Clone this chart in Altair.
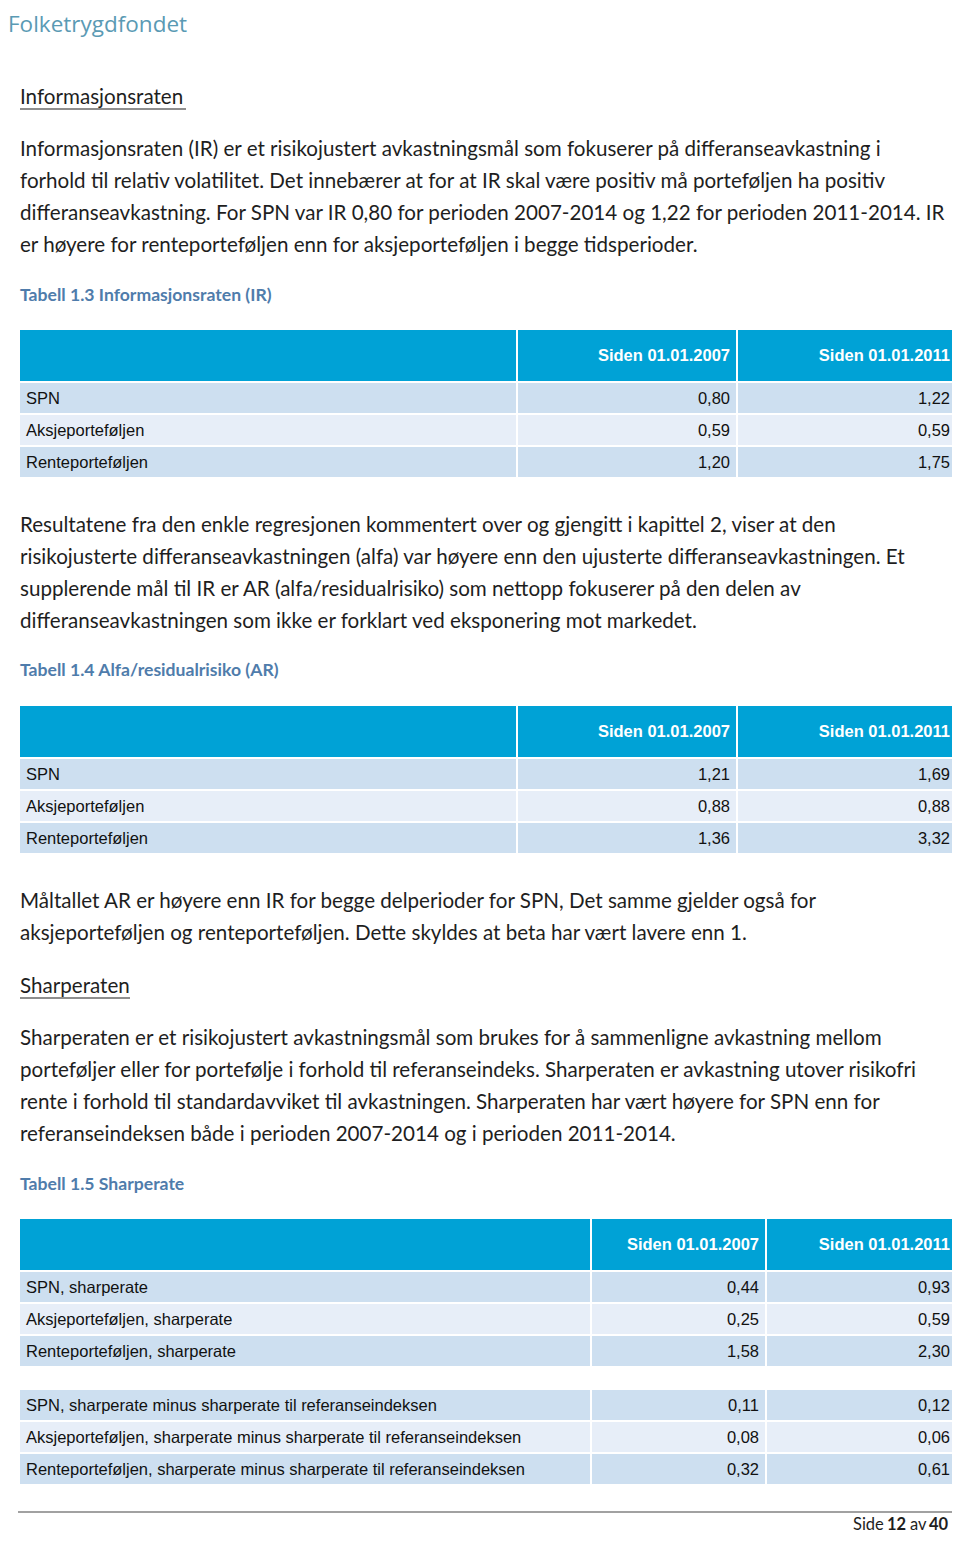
import altair as alt
import pandas as pd

# ---------------- data ----------------
logo_text = "Folketrygdfondet"

heading_ir = "Informasjonsraten"
para_ir = [
    "Informasjonsraten (IR) er et risikojustert avkastningsmål som fokuserer på differanseavkastning i",
    "forhold til relativ volatilitet. Det innebærer at for at IR skal være positiv må porteføljen ha positiv",
    "differanseavkastning. For SPN var IR 0,80 for perioden 2007-2014 og 1,22 for perioden 2011-2014. IR",
    "er høyere for renteporteføljen enn for aksjeporteføljen i begge tidsperioder.",
]
caption_13 = "Tabell 1.3 Informasjonsraten (IR)"
columns = ["Siden 01.01.2007", "Siden 01.01.2011"]
rows_13 = ["SPN", "Aksjeporteføljen", "Renteporteføljen"]
ir_2007 = [0.80, 0.59, 1.20]
ir_2011 = [1.22, 0.59, 1.75]

para_ar = [
    "Resultatene fra den enkle regresjonen kommentert over og gjengitt i kapittel 2, viser at den",
    "risikojusterte differanseavkastningen (alfa) var høyere enn den ujusterte differanseavkastningen. Et",
    "supplerende mål til IR er AR (alfa/residualrisiko) som nettopp fokuserer på den delen av",
    "differanseavkastningen som ikke er forklart ved eksponering mot markedet.",
]
caption_14 = "Tabell 1.4 Alfa/residualrisiko (AR)"
rows_14 = ["SPN", "Aksjeporteføljen", "Renteporteføljen"]
ar_2007 = [1.21, 0.88, 1.36]
ar_2011 = [1.69, 0.88, 3.32]

para_ar2 = [
    "Måltallet AR er høyere enn IR for begge delperioder for SPN, Det samme gjelder også for",
    "aksjeporteføljen og renteporteføljen. Dette skyldes at beta har vært lavere enn 1.",
]

heading_sr = "Sharperaten"
para_sr = [
    "Sharperaten er et risikojustert avkastningsmål som brukes for å sammenligne avkastning mellom",
    "porteføljer eller for portefølje i forhold til referanseindeks. Sharperaten er avkastning utover risikofri",
    "rente i forhold til standardavviket til avkastningen. Sharperaten har vært høyere for SPN enn for",
    "referanseindeksen både i perioden 2007-2014 og i perioden 2011-2014.",
]
caption_15 = "Tabell 1.5 Sharperate"
rows_15 = [
    "SPN, sharperate",
    "Aksjeporteføljen, sharperate",
    "Renteporteføljen, sharperate",
    "SPN, sharperate minus sharperate til referanseindeksen",
    "Aksjeporteføljen, sharperate minus sharperate til referanseindeksen",
    "Renteporteføljen, sharperate minus sharperate til referanseindeksen",
]
sr_2007 = [0.44, 0.25, 1.58, 0.11, 0.08, 0.32]
sr_2011 = [0.93, 0.59, 2.30, 0.12, 0.06, 0.61]

footer_parts = ["Side", "12", "av", "40"]

# ---------------- layout ----------------
BLUE = "#00a2d6"
DARK = "#cddff0"
LIGHT = "#e7eef8"
CAPTION = "#4f7cab"
TEXT = "#1e1e1e"
LEFT = 20
RIGHT = 955
LINE = 32


def fmt(v):
    return f"{v:.2f}".replace(".", ",")


rects, labels, values, headers = [], [], [], []


def add_table(top, c1, c2, row_names, v1, v2, gap_after=None):
    hb = top + 51
    for xa, xb in [(LEFT, c1), (c1 + 2, c2), (c2 + 2, RIGHT)]:
        rects.append(dict(x=xa, x2=xb, y=top, y2=hb, c=BLUE))
    headers.append(dict(x=c2 - 6, y=top + 26, t=columns[0]))
    headers.append(dict(x=RIGHT - 5, y=top + 26, t=columns[1]))
    y = hb + 2
    for i, (name, a, b) in enumerate(zip(row_names, v1, v2)):
        if gap_after is not None and i == gap_after:
            y += 22
        k = i if gap_after is None or i < gap_after else i - gap_after
        col = DARK if k % 2 == 0 else LIGHT
        for xa, xb in [(LEFT, c1), (c1 + 2, c2), (c2 + 2, RIGHT)]:
            rects.append(dict(x=xa, x2=xb, y=y, y2=y + 30, c=col))
        labels.append(dict(x=LEFT + 6, y=y + 16, t=name))
        values.append(dict(x=c2 - 6, y=y + 16, t=fmt(a)))
        values.append(dict(x=RIGHT - 5, y=y + 16, t=fmt(b)))
        y += 32


add_table(330, 516, 736, rows_13, ir_2007, ir_2011)
add_table(706, 516, 736, rows_14, ar_2007, ar_2011)
add_table(1219, 590, 765, rows_15, sr_2007, sr_2011, gap_after=3)

body = []
for start, lines in [(150, para_ir), (526, para_ar), (902, para_ar2), (1039, para_sr)]:
    for i, ln in enumerate(lines):
        body.append(dict(x=LEFT, y=start + i * LINE, t=ln))
body.append(dict(x=LEFT, y=98, t=heading_ir))
body.append(dict(x=LEFT, y=987, t=heading_sr))

underlines = pd.DataFrame([
    dict(x=LEFT, x2=186, y=109),
    dict(x=LEFT, x2=130, y=998),
])

captions = pd.DataFrame([
    dict(x=LEFT, y=296, t=caption_13),
    dict(x=LEFT, y=671, t=caption_14),
    dict(x=LEFT, y=1185, t=caption_15),
])

footer = pd.DataFrame([
    dict(x=853, y=1525, t=footer_parts[0], w="normal"),
    dict(x=887, y=1525, t=footer_parts[1], w="bold"),
    dict(x=910, y=1525, t=footer_parts[2], w="normal"),
    dict(x=929, y=1525, t=footer_parts[3], w="bold"),
])

# page coordinates: the chart starts at the 8px body margin
xs = alt.Scale(domain=[8, 952], nice=False, zero=False)
ys = alt.Scale(domain=[8, 1534], nice=False, zero=False, reverse=True)
X = alt.X("x:Q", scale=xs, axis=None)
Y = alt.Y("y:Q", scale=ys, axis=None)

rect_layer = alt.Chart(pd.DataFrame(rects)).mark_rect().encode(
    x=X, x2="x2:Q", y=Y, y2="y2:Q", color=alt.Color("c:N", scale=None)
)

logo = alt.Chart(pd.DataFrame([dict(x=8, y=25, t=logo_text)])).mark_text(
    align="left", baseline="middle", font="Open Sans", fontSize=22.5, color="#5a9ab4"
).encode(x=X, y=Y, text="t:N")

body_layer = alt.Chart(pd.DataFrame(body)).mark_text(
    align="left", baseline="middle", font="Lato", fontSize=20.6, color=TEXT
).encode(x=X, y=Y, text="t:N")

ul_layer = alt.Chart(underlines).mark_rule(color=TEXT, strokeWidth=1.2).encode(
    x=X, x2="x2:Q", y=Y
)

cap_layer = alt.Chart(captions).mark_text(
    align="left", baseline="middle", font="Lato", fontSize=17.6, fontWeight="bold", color=CAPTION
).encode(x=X, y=Y, text="t:N")

head_layer = alt.Chart(pd.DataFrame(headers)).mark_text(
    align="right", baseline="middle", font="Liberation Sans", fontSize=16.5, fontWeight="bold", color="white"
).encode(x=X, y=Y, text="t:N")

lab_layer = alt.Chart(pd.DataFrame(labels)).mark_text(
    align="left", baseline="middle", font="Liberation Sans", fontSize=16.5, color="#111111"
).encode(x=X, y=Y, text="t:N")

val_layer = alt.Chart(pd.DataFrame(values)).mark_text(
    align="right", baseline="middle", font="Liberation Sans", fontSize=16.5, color="#111111"
).encode(x=X, y=Y, text="t:N")

foot_rule = alt.Chart(pd.DataFrame([dict(x=18, x2=958, y=1512)])).mark_rule(
    color="#444444", strokeWidth=1.2
).encode(x=X, x2="x2:Q", y=Y)

foot_n = alt.Chart(footer[footer.w == "normal"]).mark_text(
    align="left", baseline="middle", font="Lato", fontSize=16.5, color=TEXT
).encode(x=X, y=Y, text="t:N")
foot_b = alt.Chart(footer[footer.w == "bold"]).mark_text(
    align="left", baseline="middle", font="Lato", fontSize=16.5, fontWeight="bold", color=TEXT
).encode(x=X, y=Y, text="t:N")

chart = alt.layer(
    rect_layer, logo, body_layer, ul_layer, cap_layer, head_layer, lab_layer, val_layer,
    foot_rule, foot_n, foot_b
).properties(
    width=944, height=1526, padding=0, autosize=alt.AutoSizeParams(type="none")
).configure_view(stroke=None)

chart.save("out.html", embed_options={"renderer": "svg", "actions": False})
